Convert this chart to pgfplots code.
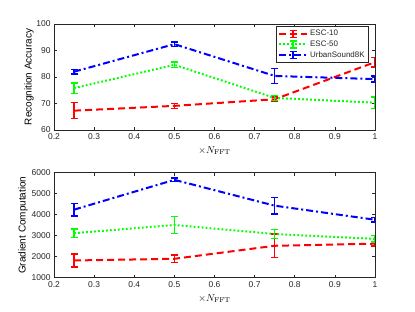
\documentclass[border=0pt]{standalone}
\usepackage{pgfplots}
\pgfplotsset{compat=1.18}
\usepackage[no-math]{fontspec}
\setmainfont{Liberation Sans}
\definecolor{axgray}{rgb}{0.15,0.15,0.15}
\definecolor{ggreen}{rgb}{0,1,0}
\begin{document}
\begin{tikzpicture}
\useasboundingbox (0,0) rectangle (415bp,312bp);
\pgfplotsset{
  every axis/.append style={
    scale only axis, width=321bp, anchor=south west,
    xmin=0.2, xmax=1, xtick={0.2,0.3,...,1.0},
    xticklabels={0.2,0.3,0.4,0.5,0.6,0.7,0.8,0.9,1},
    tick align=inside, major tick length=3bp,
    axis line style={axgray, line width=0.5bp},
    every tick/.style={axgray, line width=0.5bp},
    tick label style={font=\fontsize{8.5}{10}\selectfont, text=axgray},
    label style={font=\fontsize{8.5}{10}\selectfont, text=axgray},
    /pgf/number format/assume math mode=true,
    xlabel={$\times N_{\mathrm{FFT}}$},
    every axis x label/.style={at={(0.5,0)}, anchor=north, yshift=-13bp},
  },
  ser/.style={line width=2bp, error bars/.cd, y dir=both, y explicit,
    error bar style={solid, line width=1.5bp},
    error mark options={solid, rotate=90, mark size=3.5bp, line width=1.5bp}},
  sred/.style={red, dash pattern=on 7bp off 4bp, ser},
  sgreen/.style={ggreen, dash pattern=on 1.8bp off 2.2bp, ser},
  sblue/.style={blue, dash pattern=on 7bp off 3bp on 2bp off 3bp, ser},
}
\begin{axis}[at={(54bp,182bp)}, height=106bp,
  ymin=60, ymax=100, ytick={60,70,80,90,100},
  ylabel={Recognition Accuracy},
  every axis y label/.style={at={(-25bp,53bp)}, rotate=90, anchor=center},
  legend style={at={(0.981,0.98)}, anchor=north east, draw=axgray, line width=0.5bp,
    font=\fontsize{8}{9.5}\selectfont, text=axgray, inner sep=2bp, row sep=-0.5bp},
  legend cell align=left,
  legend image code/.code={
    \draw[#1] (0bp,0bp) -- (28bp,0bp);
    \draw[#1, solid, line width=1.5bp] (14bp,-3.5bp) -- (14bp,3.5bp);
    \draw[#1, solid, line width=1.5bp] (10.5bp,3.5bp) -- (17.5bp,3.5bp);
    \draw[#1, solid, line width=1.5bp] (10.5bp,-3.5bp) -- (17.5bp,-3.5bp);
  },
]
\addplot[sred] coordinates {
 (0.25,67.3) +- (0,3.0) (0.5,69.1) +- (0,0.9) (0.75,71.6) +- (0,0.8) (1.0,85.6) +- (0,1.8)};
\addlegendentry{ESC-10}
\addplot[sgreen] coordinates {
 (0.25,75.8) +- (0,2.0) (0.5,84.6) +- (0,1.0) (0.75,72.1) +- (0,1.0) (1.0,70.3) +- (0,2.1)};
\addlegendentry{ESC-50}
\addplot[sblue] coordinates {
 (0.25,82.0) +- (0,0.9) (0.5,92.4) +- (0,0.9) (0.75,80.4) +- (0,2.8) (1.0,79.2) +- (0,1.1)};
\addlegendentry{UrbanSound8K}
\end{axis}
\begin{axis}[at={(54bp,34.3bp)}, height=105bp,
  ymin=1000, ymax=6000, ytick={1000,2000,...,6000},
  yticklabels={1000,2000,3000,4000,5000,6000},
  ylabel={Gradient Computation},
  every axis y label/.style={at={(-31bp,52.5bp)}, rotate=90, anchor=center},
]
\addplot[sred] coordinates {
 (0.25,1820) +- (0,300) (0.5,1900) +- (0,180) (0.75,2520) +- (0,560) (1.0,2620) +- (0,110)};
\addplot[sgreen] coordinates {
 (0.25,3120) +- (0,200) (0.5,3510) +- (0,400) (0.75,3080) +- (0,210) (1.0,2850) +- (0,160)};
\addplot[sblue] coordinates {
 (0.25,4240) +- (0,300) (0.5,5660) +- (0,90) (0.75,4430) +- (0,400) (1.0,3760) +- (0,100)};
\end{axis}
\end{tikzpicture}
\end{document}
